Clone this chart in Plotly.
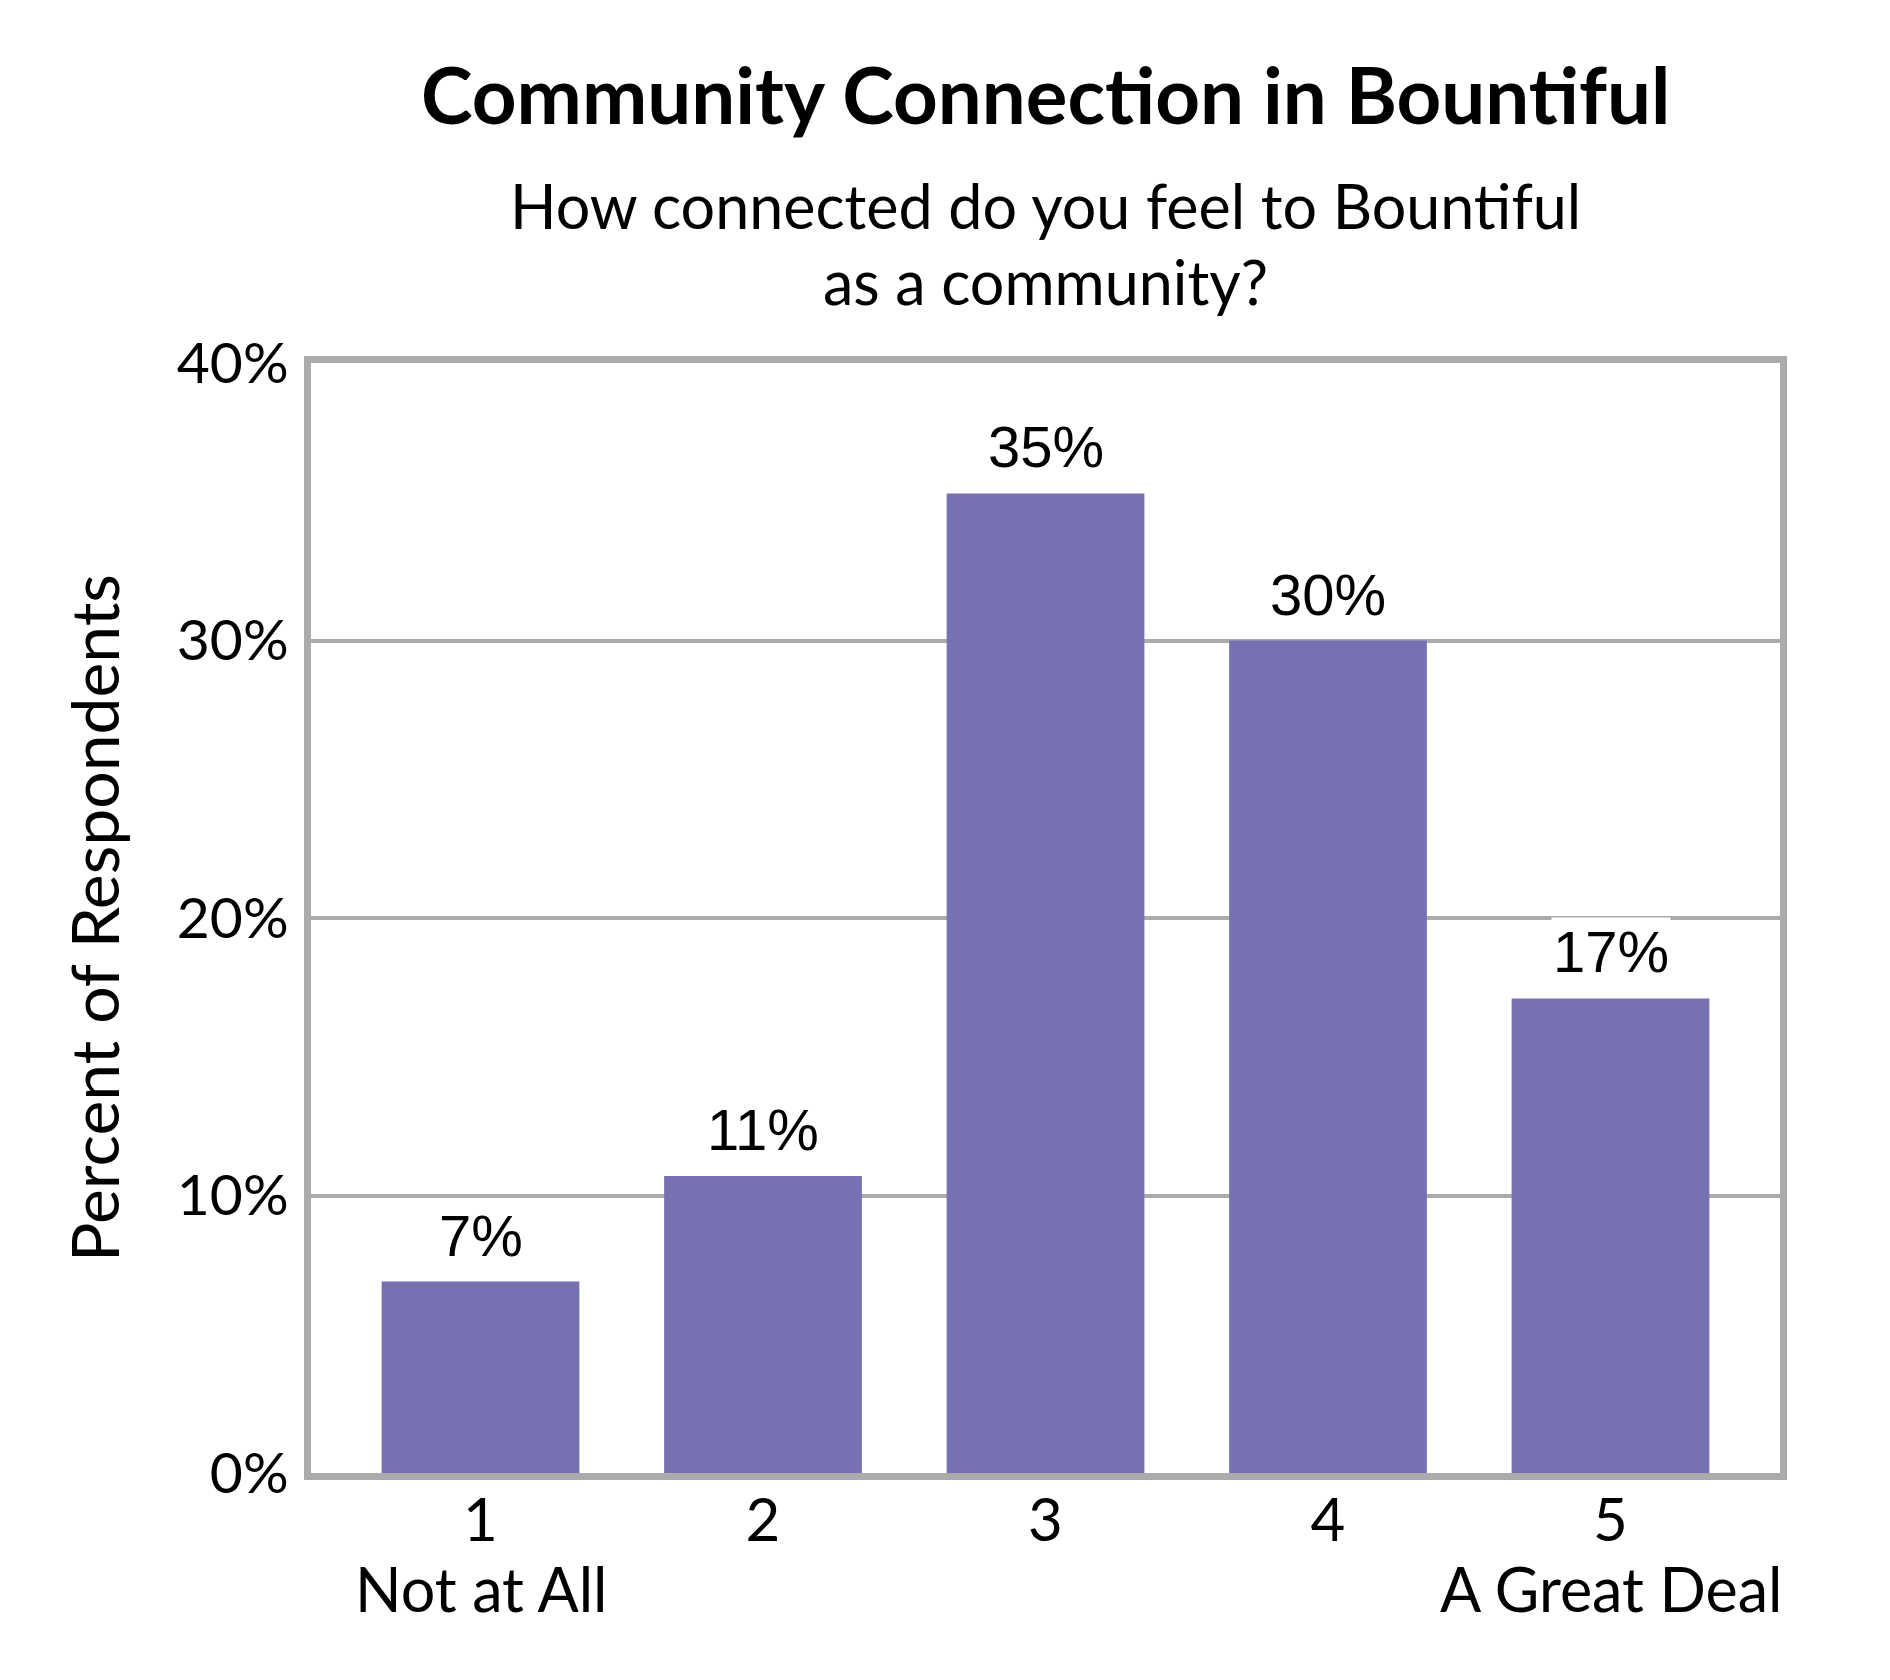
import plotly.graph_objects as go

# survey responses
categories = [1, 2, 3, 4, 5]
tick_labels = ['1', '2', '3', '4', '5']
scale_ends = {1: 'Not at All', 5: 'A Great Deal'}
percent = [6.9, 10.7, 35.3, 30.0, 17.1]
label_text = ['7%', '11%', '35%', '30%', '17%']
y_ticks = [0, 10, 20, 30, 40]
y_tick_text = ['0%', '10%', '20%', '30%', '40%']

BAR_COLOR = '#7671B1'
GRID_COLOR = '#ABABAB'
TEXT_FONT = 'Lato'

fig = go.Figure()

fig.add_trace(go.Bar(
    x=categories,
    y=percent,
    marker=dict(color=BAR_COLOR, line=dict(width=0)),
    hovertemplate='%{x}: %{y:.1f}%<extra></extra>'
))

# value labels with white box (they cut the gridline like the original)
for cat, val, txt in zip(categories, percent, label_text):
    fig.add_annotation(
        x=cat, y=val, text=txt,
        xref='x', yref='y',
        yanchor='bottom', yshift=12,
        showarrow=False,
        bgcolor='white',
        font=dict(family='Liberation Sans, Arial', size=58, color='black')
    )

# second line under the end ticks
for cat, txt in scale_ends.items():
    fig.add_annotation(
        x=cat, y=-0.104, text=txt,
        xref='x', yref='paper',
        yanchor='middle',
        showarrow=False,
        font=dict(family=TEXT_FONT, size=61, color='black')
    )

# title and subtitle
fig.add_annotation(
    x=0.5, y=1.242, xref='paper', yref='paper',
    text='<b>Community Connection in Bountiful</b>',
    showarrow=False, yanchor='middle',
    font=dict(family=TEXT_FONT, size=78, color='black')
)
fig.add_annotation(
    x=0.5, y=1.142, xref='paper', yref='paper',
    text='How connected do you feel to Bountiful',
    showarrow=False, yanchor='middle',
    font=dict(family=TEXT_FONT, size=61, color='black')
)
fig.add_annotation(
    x=0.5, y=1.073, xref='paper', yref='paper',
    text='as a community?',
    showarrow=False, yanchor='middle',
    font=dict(family=TEXT_FONT, size=61, color='black')
)

fig.update_layout(
    width=1890,
    height=1680,
    margin=dict(l=303, r=118, t=355, b=215),
    paper_bgcolor='white',
    plot_bgcolor='white',
    showlegend=False,
    bargap=0.30,
    font=dict(family=TEXT_FONT, color='black')
)

fig.update_xaxes(
    range=[0.4, 5.6],
    tickmode='array',
    tickvals=categories,
    ticktext=tick_labels,
    tickfont=dict(family=TEXT_FONT, size=60, color='black'),
    ticklabelstandoff=-11,
    showline=True, linewidth=7, linecolor=GRID_COLOR, mirror=True,
    showgrid=False,
    zeroline=False,
    ticks=''
)

fig.update_yaxes(
    range=[0, 40],
    tickmode='array',
    tickvals=y_ticks,
    ticktext=y_tick_text,
    tickfont=dict(family=TEXT_FONT, size=57, color='black'),
    showline=True, linewidth=7, linecolor=GRID_COLOR, mirror=True,
    showgrid=True, gridwidth=4, gridcolor=GRID_COLOR,
    zeroline=False,
    ticks='outside', ticklen=4, tickcolor='white',
    title=dict(text='Percent of Respondents', standoff=38,
               font=dict(family=TEXT_FONT, size=66, color='black'))
)

fig.write_html("out.html")
